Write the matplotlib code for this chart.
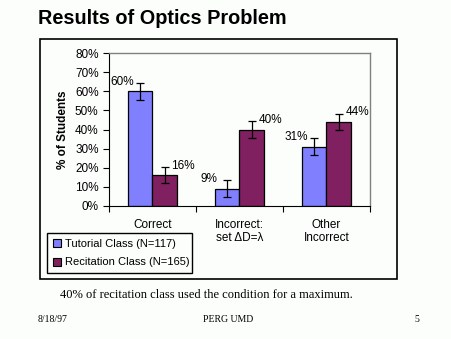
import numpy as np
import matplotlib.pyplot as plt
from matplotlib.patches import Rectangle
from matplotlib.lines import Line2D

plt.rcParams['font.family'] = ['Liberation Sans', 'DejaVu Sans']

categories = ['Correct', 'Incorrect:\nset \u0394D=\u03bb', 'Other\nIncorrect']
tutorial = [60, 9, 31]
recitation = [16, 40, 44]
tutorial_err = [4.5, 4.4, 4.5]
recitation_err = [4.2, 4.5, 4.1]
series_names = ['Tutorial Class (N=117)', 'Recitation Class (N=165)']
yticks = [0, 10, 20, 30, 40, 50, 60, 70, 80]

c_tut = '#8080ff'
c_rec = '#802060'
bg = '#fcfefc'

fig = plt.figure(figsize=(4.52, 3.39), dpi=100, facecolor=bg)

# title and outer frame
fig.text(38/452, 1-18/339, 'Results of Optics Problem', fontsize=14.3,
         fontweight='bold', va='center', ha='left')
fig.patches.append(Rectangle((40/452, 1-279/339), 357/452, 240/339,
                             transform=fig.transFigure, fill=False,
                             edgecolor='black', linewidth=1.2))

ax = fig.add_axes([109/452, 1-206/339, 261/452, 153/339])
ax.set_facecolor(bg)
x = np.arange(len(categories))
w = 0.287
ax.bar(x - w/2, tutorial, w, color=c_tut, edgecolor='black', linewidth=0.9,
       yerr=tutorial_err, error_kw=dict(ecolor='black', capsize=3, elinewidth=0.9, capthick=0.9))
ax.bar(x + w/2, recitation, w, color=c_rec, edgecolor='black', linewidth=0.9,
       yerr=recitation_err, error_kw=dict(ecolor='black', capsize=3, elinewidth=0.9, capthick=0.9))

for i in range(len(categories)):
    ax.annotate('%d%%' % tutorial[i], (x[i] - w/2, tutorial[i]), xytext=(-13, 7),
                textcoords='offset points', ha='center', va='center', fontsize=8.5)
    ax.annotate('%d%%' % recitation[i], (x[i] + w/2, recitation[i]), xytext=(13, 7),
                textcoords='offset points', ha='center', va='center', fontsize=8.5)

ax.set_xlim(-0.5, 2.5)
ax.set_ylim(0, 80)
ax.set_yticks(yticks)
ax.set_yticklabels(['%d%%' % v for v in yticks], fontsize=8.5)
ax.set_xticks([-0.5, 0.5, 1.5, 2.5])
ax.set_xticklabels([])
ax.set_xticks(x, minor=True)
ax.set_xticklabels(categories, minor=True, fontsize=8.5, linespacing=1.2, va='top')
ax.tick_params(axis='x', which='minor', length=0, pad=9)
ax.tick_params(axis='both', which='major', length=4, width=0.8, direction='out')
ax.set_ylabel('% of Students', fontsize=8.5, fontweight='bold', labelpad=4)
for s in ['top', 'right']:
    ax.spines[s].set_color('#808080')
    ax.spines[s].set_linewidth(1)

handles = [Line2D([], [], marker='s', linestyle='none', markersize=6,
                  markerfacecolor=c, markeredgecolor='black', markeredgewidth=0.8)
           for c in (c_tut, c_rec)]
fig.legend(handles, series_names, loc='lower left',
           bbox_to_anchor=(47/452, 1-273/339, 145/452, 49/339), mode='expand',
           fontsize=8, frameon=True, fancybox=False, edgecolor='black',
           facecolor=bg, framealpha=1, handlelength=0.8, handletextpad=0.3,
           borderpad=0.5, labelspacing=0.8, borderaxespad=0)

# notes below the chart
fig.text(60/452, 1-295/339, '40% of recitation class used the condition for a maximum.',
         family='Liberation Serif', fontsize=9, va='center')
fig.text(38/452, 1-319/339, '8/18/97', family='Liberation Serif', fontsize=7, va='center')
fig.text(228/452, 1-319/339, 'PERG UMD', family='Liberation Serif', fontsize=7,
         va='center', ha='center')
fig.text(414/452, 1-319/339, '5', family='Liberation Serif', fontsize=7, va='center')

fig.savefig('out.png', dpi=100, facecolor=bg)
